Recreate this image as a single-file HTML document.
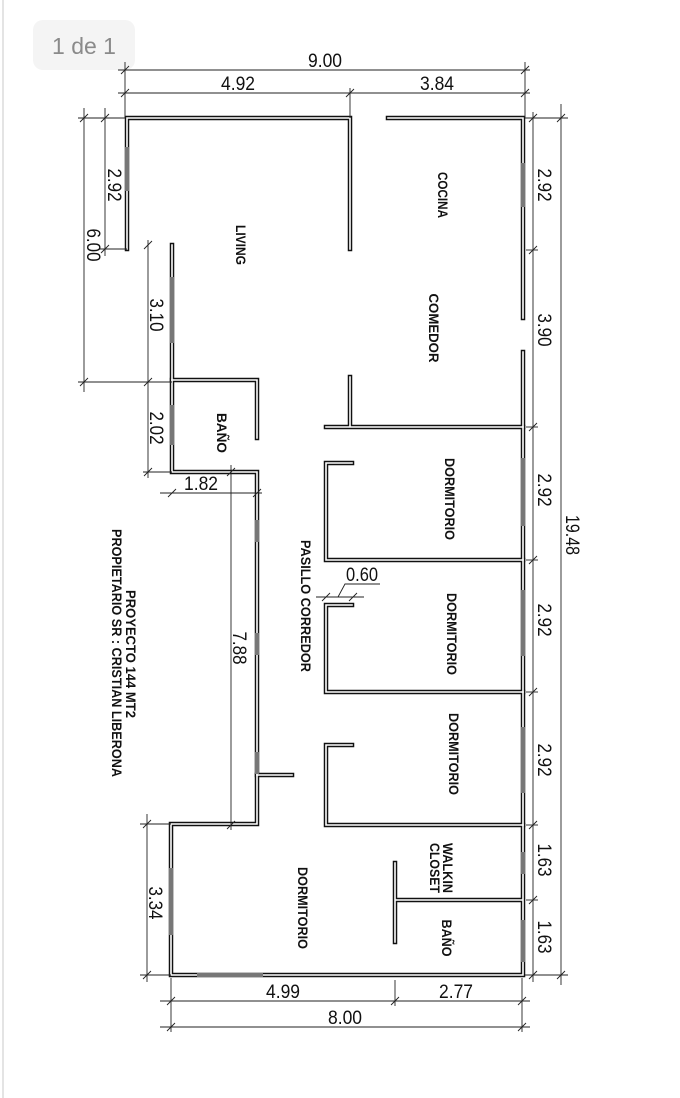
<!DOCTYPE html>
<html><head><meta charset="utf-8"><style>
html,body{margin:0;padding:0;background:#fff;}
svg{display:block;}
.d{font-family:"Liberation Sans Narrow","Liberation Sans",sans-serif;font-size:19px;fill:#111;}
.r{font-family:"Liberation Sans Narrow","Liberation Sans",sans-serif;font-size:14px;font-weight:bold;fill:#111;}
</style></head><body>
<svg width="680" height="1098" viewBox="0 0 680 1098" xmlns="http://www.w3.org/2000/svg">
<rect x="0" y="0" width="680" height="1098" fill="#fff"/>
<line x1="3" y1="0" x2="3" y2="1098" stroke="#e4e4e4" stroke-width="2"/>
<rect x="33" y="20" width="102" height="50" rx="10" fill="#f4f4f4"/>
<text x="84" y="54" text-anchor="middle" font-family="Liberation Sans,sans-serif" font-size="23" fill="#8a8a8a">1 de 1</text>

<g fill="none" stroke-linecap="square">
<g stroke="#111" stroke-width="4.5">
<path d="M127,249 L127,118 L350,118 L350,249"/>
<path d="M388,118 L523,118 L523,318"/>
<path d="M523,352 L523,975 L171,975 L171,824 L257,824 L257,472 L172,472 L172,245"/>
<path d="M172,380 L257,380 L257,438"/>
<path d="M350,377 L350,427 M326,427 L523,427"/>
<path d="M352,463 L326,463 L326,560 L523,560"/>
<path d="M352,605 L326,605 L326,692 L523,692"/>
<path d="M352,745 L326,745 L326,825 L523,825"/>
<path d="M257,775 L292,775"/>
<path d="M395,863 L395,942 M395,900 L522,900"/>
</g>
<g stroke="#fff" stroke-width="1.6">
<path d="M127,249 L127,118 L350,118 L350,249"/>
<path d="M388,118 L523,118 L523,318"/>
<path d="M523,352 L523,975 L171,975 L171,824 L257,824 L257,472 L172,472 L172,245"/>
<path d="M172,380 L257,380 L257,438"/>
<path d="M350,377 L350,427 M326,427 L523,427"/>
<path d="M352,463 L326,463 L326,560 L523,560"/>
<path d="M352,605 L326,605 L326,692 L523,692"/>
<path d="M352,745 L326,745 L326,825 L523,825"/>
<path d="M257,775 L292,775"/>
<path d="M395,863 L395,942 M395,900 L522,900"/>
</g>
</g>

<g fill="#777">
<rect x="125" y="147" width="4" height="44"/>
<rect x="170" y="277" width="4" height="66"/>
<rect x="170" y="405" width="4" height="40"/>
<rect x="521" y="163" width="4" height="44"/>
<rect x="521" y="458" width="4" height="68"/>
<rect x="521" y="590" width="4" height="66"/>
<rect x="521" y="727" width="4" height="66"/>
<rect x="521" y="852" width="4" height="22"/>
<rect x="521" y="920" width="4" height="42"/>
<rect x="255" y="520" width="4" height="22"/>
<rect x="255" y="633" width="4" height="22"/>
<rect x="255" y="752" width="4" height="22"/>
<rect x="169" y="868" width="4" height="67"/>
<rect x="197" y="973" width="66" height="4"/>
</g>

<g stroke="#222" stroke-width="0.9" fill="none">
<line x1="118" y1="70" x2="530" y2="70"/>
<line x1="118" y1="93" x2="530" y2="93"/>
<line x1="125" y1="62" x2="125" y2="118"/>
<line x1="350" y1="88" x2="350" y2="118"/>
<line x1="525" y1="62" x2="525" y2="118"/>
<line x1="84" y1="108" x2="84" y2="392"/>
<line x1="105" y1="108" x2="105" y2="256"/>
<line x1="78" y1="118" x2="125" y2="118"/>
<line x1="100" y1="249" x2="127" y2="249"/>
<line x1="148" y1="240" x2="148" y2="478"/>
<line x1="78" y1="382" x2="172" y2="382"/>
<line x1="143" y1="472" x2="172" y2="472"/>
<line x1="160" y1="493" x2="262" y2="493"/>
<line x1="231" y1="465" x2="231" y2="830"/>
<line x1="147" y1="814" x2="147" y2="982"/>
<line x1="140" y1="824" x2="171" y2="824"/>
<line x1="140" y1="975" x2="171" y2="975"/>
<line x1="160" y1="1001" x2="530" y2="1001"/>
<line x1="160" y1="1027" x2="530" y2="1027"/>
<line x1="171" y1="978" x2="171" y2="1032"/>
<line x1="395" y1="980" x2="395" y2="1006"/>
<line x1="522" y1="978" x2="522" y2="1032"/>
<line x1="533" y1="112" x2="533" y2="982"/>
<line x1="561" y1="104" x2="561" y2="985"/>
<line x1="525" y1="118" x2="568" y2="118"/>
<line x1="525" y1="975" x2="568" y2="975"/>
<line x1="526" y1="250" x2="538" y2="250"/>
<line x1="526" y1="427" x2="538" y2="427"/>
<line x1="526" y1="560" x2="538" y2="560"/>
<line x1="526" y1="692" x2="538" y2="692"/>
<line x1="526" y1="825" x2="538" y2="825"/>
<line x1="526" y1="900" x2="538" y2="900"/>
<line x1="316" y1="597" x2="364" y2="597"/>
<polyline points="338,597 345,584 380,584"/>
<path d="M121,74 l8,-8 M346,97 l8,-8 M521,74 l8,-8 M121,97 l8,-8 M521,97 l8,-8
M80,122 l8,-8 M80,386 l8,-8 M101,122 l8,-8 M101,253 l8,-8 M144,249 l8,-8 M144,386 l8,-8 M144,476 l8,-8
M168,497 l8,-8 M253,497 l8,-8 M227,476 l8,-8 M227,829 l8,-8 M143,828 l8,-8 M143,979 l8,-8
M167,1005 l8,-8 M391,1005 l8,-8 M518,1005 l8,-8 M167,1031 l8,-8 M518,1031 l8,-8
M529,122 l8,-8 M529,254 l8,-8 M529,431 l8,-8 M529,564 l8,-8 M529,696 l8,-8 M529,829 l8,-8 M529,904 l8,-8 M529,979 l8,-8
M557,122 l8,-8 M557,979 l8,-8 M322,601 l8,-8 M349,601 l8,-8"/>
</g>

<g class="d" lengthAdjust="spacingAndGlyphs">
<text x="325" y="67" text-anchor="middle" textLength="34" lengthAdjust="spacingAndGlyphs">9.00</text>
<text x="238" y="90" text-anchor="middle" textLength="34" lengthAdjust="spacingAndGlyphs">4.92</text>
<text x="437" y="90" text-anchor="middle" textLength="34" lengthAdjust="spacingAndGlyphs">3.84</text>
<text x="201" y="490" text-anchor="middle" textLength="34" lengthAdjust="spacingAndGlyphs">1.82</text>
<text x="362" y="581" text-anchor="middle" textLength="32" lengthAdjust="spacingAndGlyphs">0.60</text>
<text x="283" y="998" text-anchor="middle" textLength="34" lengthAdjust="spacingAndGlyphs">4.99</text>
<text x="456" y="998" text-anchor="middle" textLength="34" lengthAdjust="spacingAndGlyphs">2.77</text>
<text x="345" y="1024" text-anchor="middle" textLength="34" lengthAdjust="spacingAndGlyphs">8.00</text>
<text transform="translate(108,185) rotate(90)" text-anchor="middle" textLength="33" lengthAdjust="spacingAndGlyphs">2.92</text>
<text transform="translate(87,245) rotate(90)" text-anchor="middle" textLength="33" lengthAdjust="spacingAndGlyphs">6.00</text>
<text transform="translate(150,315) rotate(90)" text-anchor="middle" textLength="33" lengthAdjust="spacingAndGlyphs">3.10</text>
<text transform="translate(150,428) rotate(90)" text-anchor="middle" textLength="33" lengthAdjust="spacingAndGlyphs">2.02</text>
<text transform="translate(233,648) rotate(90)" text-anchor="middle" textLength="33" lengthAdjust="spacingAndGlyphs">7.88</text>
<text transform="translate(149,903) rotate(90)" text-anchor="middle" textLength="33" lengthAdjust="spacingAndGlyphs">3.34</text>
<text transform="translate(538,185) rotate(90)" text-anchor="middle" textLength="33" lengthAdjust="spacingAndGlyphs">2.92</text>
<text transform="translate(538,330) rotate(90)" text-anchor="middle" textLength="33" lengthAdjust="spacingAndGlyphs">3.90</text>
<text transform="translate(538,490) rotate(90)" text-anchor="middle" textLength="33" lengthAdjust="spacingAndGlyphs">2.92</text>
<text transform="translate(538,620) rotate(90)" text-anchor="middle" textLength="33" lengthAdjust="spacingAndGlyphs">2.92</text>
<text transform="translate(538,760) rotate(90)" text-anchor="middle" textLength="33" lengthAdjust="spacingAndGlyphs">2.92</text>
<text transform="translate(538,860) rotate(90)" text-anchor="middle" textLength="33" lengthAdjust="spacingAndGlyphs">1.63</text>
<text transform="translate(538,937) rotate(90)" text-anchor="middle" textLength="33" lengthAdjust="spacingAndGlyphs">1.63</text>
<text transform="translate(566,535) rotate(90)" text-anchor="middle" textLength="40" lengthAdjust="spacingAndGlyphs">19.48</text>
</g>

<g class="r">
<text transform="translate(236,245) rotate(90)" text-anchor="middle" textLength="40" lengthAdjust="spacingAndGlyphs">LIVING</text>
<text transform="translate(438,195) rotate(90)" text-anchor="middle" textLength="46" lengthAdjust="spacingAndGlyphs">COCINA</text>
<text transform="translate(429,328) rotate(90)" text-anchor="middle" textLength="69" lengthAdjust="spacingAndGlyphs">COMEDOR</text>
<text transform="translate(217,433) rotate(90)" text-anchor="middle" textLength="40" lengthAdjust="spacingAndGlyphs">BAÑO</text>
<text transform="translate(445,499) rotate(90)" text-anchor="middle" textLength="82" lengthAdjust="spacingAndGlyphs">DORMITORIO</text>
<text transform="translate(447,634) rotate(90)" text-anchor="middle" textLength="82" lengthAdjust="spacingAndGlyphs">DORMITORIO</text>
<text transform="translate(449,754) rotate(90)" text-anchor="middle" textLength="82" lengthAdjust="spacingAndGlyphs">DORMITORIO</text>
<text transform="translate(301,606) rotate(90)" text-anchor="middle" textLength="132" lengthAdjust="spacingAndGlyphs">PASILLO CORREDOR</text>
<text transform="translate(298,908) rotate(90)" text-anchor="middle" textLength="82" lengthAdjust="spacingAndGlyphs">DORMITORIO</text>
<text transform="translate(443,868) rotate(90)" text-anchor="middle" textLength="50" lengthAdjust="spacingAndGlyphs">WALKIN</text>
<text transform="translate(430,868) rotate(90)" text-anchor="middle" textLength="50" lengthAdjust="spacingAndGlyphs">CLOSET</text>
<text transform="translate(442,938) rotate(90)" text-anchor="middle" textLength="37" lengthAdjust="spacingAndGlyphs">BAÑO</text>
<text transform="translate(126,654) rotate(90)" text-anchor="middle" textLength="128" lengthAdjust="spacingAndGlyphs">PROYECTO 144 MT2</text>
<text transform="translate(112,653) rotate(90)" text-anchor="middle" textLength="248" lengthAdjust="spacingAndGlyphs">PROPIETARIO SR : CRISTIAN LIBERONA</text>
</g>
</svg>
</body></html>
